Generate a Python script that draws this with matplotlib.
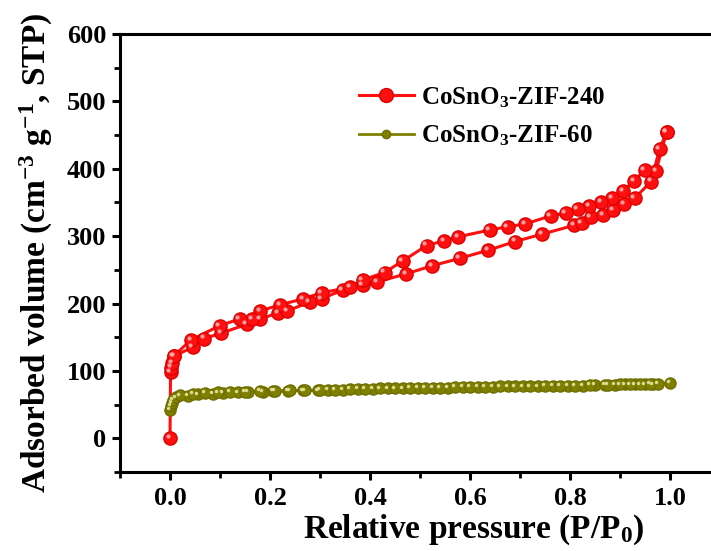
import matplotlib
matplotlib.use('Agg')
import matplotlib.pyplot as plt
from matplotlib.ticker import MultipleLocator
from matplotlib.transforms import offset_copy

plt.rcParams['font.family'] = 'Liberation Serif'
plt.rcParams['font.weight'] = 'bold'
plt.rcParams['mathtext.fontset'] = 'custom'
plt.rcParams['mathtext.rm'] = 'Liberation Serif:bold'
plt.rcParams['mathtext.it'] = 'Liberation Serif:bold:italic'
plt.rcParams['mathtext.bf'] = 'Liberation Serif:bold'

# CoSnO3-ZIF-240 : adsorption then desorption branch
x_240_ads = [0.0, 0.001, 0.002, 0.004, 0.008, 0.045, 0.068, 0.102, 0.153, 0.18, 0.216,
             0.234, 0.279, 0.303, 0.345, 0.385, 0.414, 0.472, 0.524, 0.579, 0.636, 0.69,
             0.744, 0.808, 0.823, 0.841, 0.866, 0.886, 0.908, 0.929, 0.962, 0.979, 0.993]
y_240_ads = [0, 98, 105, 112, 122, 135, 148, 156, 169, 177, 186,
             189, 202, 207, 220, 228, 232, 244, 256, 267, 279, 292,
             303, 316, 320, 328, 331, 339, 347, 356, 381, 429, 454]
x_240_des = [0.993, 0.972, 0.949, 0.928, 0.906, 0.884, 0.862, 0.838, 0.815, 0.791, 0.761,
             0.71, 0.675, 0.639, 0.576, 0.548, 0.513, 0.465, 0.429, 0.385, 0.36, 0.303,
             0.266, 0.22, 0.18, 0.164, 0.139, 0.099, 0.042, 0.007]
y_240_des = [454, 397, 398, 382, 367, 357, 350, 344, 340, 334, 330,
             318, 314, 309, 299, 293, 286, 263, 246, 235, 224, 216,
             207, 198, 189, 177, 177, 167, 146, 122]

# CoSnO3-ZIF-60
x_60_ads = [0.0, 0.001, 0.003, 0.006, 0.012, 0.035, 0.055, 0.085, 0.105, 0.135, 0.155,
            0.185, 0.205, 0.235, 0.265, 0.295, 0.315, 0.345, 0.375, 0.405, 0.435, 0.465,
            0.495, 0.525, 0.555, 0.585, 0.615, 0.645, 0.675, 0.705, 0.735, 0.765, 0.795,
            0.825, 0.85, 0.87, 0.89, 0.91, 0.93, 0.95, 0.965, 0.975, 1.0]
y_60_ads = [42, 48, 53, 57, 61, 63, 65, 66, 67, 68, 69,
            69, 70, 70, 71, 71, 72, 72, 73, 73, 74, 74,
            75, 75, 75, 76, 76, 76, 77, 77, 77, 78, 78,
            78, 79, 79, 79, 80, 80, 80, 80, 81, 82]
x_60_des = [0.96, 0.94, 0.92, 0.9, 0.875, 0.84, 0.81, 0.78, 0.75, 0.72, 0.69,
            0.66, 0.63, 0.6, 0.57, 0.54, 0.51, 0.48, 0.45, 0.42, 0.39, 0.36,
            0.33, 0.3, 0.27, 0.24, 0.21, 0.18, 0.15, 0.12, 0.095, 0.07, 0.045, 0.02]
y_60_des = [81, 80, 80, 80, 79, 79, 78, 78, 78, 77, 77,
            77, 76, 76, 76, 75, 75, 75, 74, 74, 73, 73,
            72, 72, 71, 71, 70, 70, 69, 69, 68, 67, 66, 64]

fig = plt.figure(figsize=(7.11, 5.51), dpi=100)
ax = fig.add_axes([0.1688, 0.1434, 0.8439, 0.7949])

red = '#ff1010'
olive = '#808000'

# red curve (one line through adsorption + desorption)
x240 = x_240_ads + x_240_des
y240 = y_240_ads + y_240_des
ax.plot(x240, y240, '-', color=red, lw=2.2, zorder=3)
ax.plot(x240, y240, 'o', color=red, mec='#e00000', ms=9.5, zorder=4)
hl = offset_copy(ax.transData, fig=fig, x=-1.5, y=1.5, units='points')
ax.plot(x240, y240, 'o', color='#ffb0b0', mec='none', ms=3, alpha=0.9, transform=hl, zorder=5)

x60 = x_60_ads + x_60_des
y60 = y_60_ads + y_60_des
ax.plot(x60, y60, '-', color=olive, lw=2.0, zorder=3)
ax.plot(x60, y60, 'o', color=olive, mec='#6e6e00', ms=8, zorder=4)
hl2 = offset_copy(ax.transData, fig=fig, x=-1.2, y=1.2, units='points')
ax.plot(x60, y60, 'o', color='#e6e6a0', mec='none', ms=2.5, alpha=0.9, transform=hl2, zorder=5)

# legend handles
ax.plot([], [], '-o', color=red, mec='#e00000', ms=10, lw=2.2, label='CoSnO$_3$-ZIF-240')
ax.plot([], [], '-o', color=olive, mec='#6e6e00', ms=6, lw=2.0, label='CoSnO$_3$-ZIF-60')
handles, labels = ax.get_legend_handles_labels()
ax.legend(handles[-2:], labels[-2:], loc='upper left', bbox_to_anchor=(0.36, 0.935),
          frameon=False, fontsize=18, handlelength=2.2, handletextpad=0.3,
          labelspacing=0.55)

ax.set_xlim(-0.1, 1.1)
ax.set_ylim(-50, 600)
ax.xaxis.set_major_locator(MultipleLocator(0.2))
ax.xaxis.set_minor_locator(MultipleLocator(0.1))
ax.yaxis.set_major_locator(MultipleLocator(100))
ax.yaxis.set_minor_locator(MultipleLocator(50))
ax.set_xticks([0.0, 0.2, 0.4, 0.6, 0.8, 1.0])
ax.set_xticklabels(['0.0', '0.2', '0.4', '0.6', '0.8', '1.0'])

for s in ['left', 'bottom', 'top']:
    ax.spines[s].set_linewidth(2.2)
ax.spines['right'].set_visible(False)
ax.tick_params(which='major', direction='out', length=6, width=2.2, labelsize=19, pad=4)
ax.tick_params(axis='x', which='major', pad=5)
ax.tick_params(which='minor', direction='out', length=4, width=2.0)
ax.tick_params(top=False, right=False, which='both')

ax.set_xlabel('Relative pressure (P/P$_0$)', fontsize=24, fontweight='bold')
ax.xaxis.set_label_coords(0.589, -0.092)
ax.set_ylabel('Adsorbed volume (cm$^{-3}$ g$^{-1}$, STP)', fontsize=24, fontweight='bold')
ax.yaxis.set_label_coords(-0.108, 0.5)

fig.savefig('out.png', dpi=100)
